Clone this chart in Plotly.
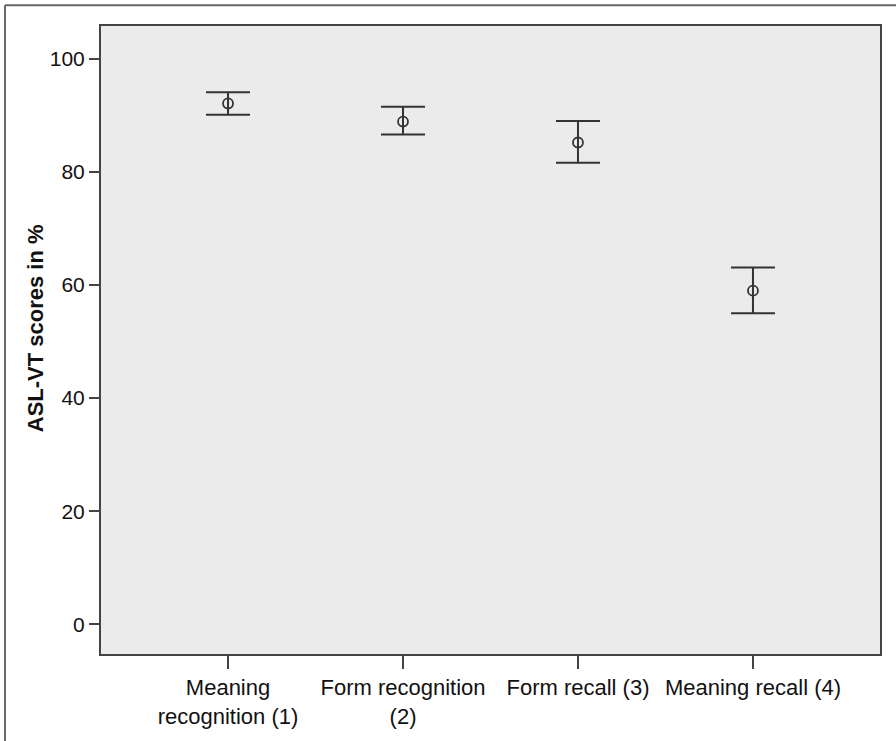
import plotly.graph_objects as go

categories = ["Meaning<br>recognition (1)", "Form recognition<br>(2)", "Form recall (3)", "Meaning recall (4)"]
positions = [0, 1, 2, 3]
means = [92.1, 88.9, 85.2, 59.0]
ci_upper = [94.1, 91.5, 89.0, 63.1]
ci_lower = [90.1, 86.6, 81.6, 55.0]
y_ticks = [0, 20, 40, 60, 80, 100]

err_plus = [u - m for u, m in zip(ci_upper, means)]
err_minus = [m - l for m, l in zip(means, ci_lower)]

ink = "#333333"
font_family = "Liberation Sans, Arial, sans-serif"

fig = go.Figure()
fig.add_trace(go.Scatter(
    x=positions, y=means, mode="markers",
    marker=dict(symbol="circle-open", size=10, color=ink, line=dict(width=1.8, color=ink)),
    error_y=dict(type="data", symmetric=False, array=err_plus, arrayminus=err_minus,
                 color=ink, thickness=2, width=22),
    showlegend=False, hoverinfo="skip",
))

fig.update_layout(
    width=896, height=741,
    margin=dict(l=101, r=16, t=26, b=82),
    paper_bgcolor="white", plot_bgcolor="#ebebeb",
    font=dict(family=font_family, size=21, color="#111111"),
    xaxis=dict(range=[-0.726, 3.726], tickvals=positions, ticktext=categories,
               showgrid=False, zeroline=False, showline=True, linecolor="#444444",
               linewidth=2, mirror=True, ticks="outside", ticklen=13, tickwidth=2,
               tickcolor="#444444", tickfont=dict(size=22)),
    yaxis=dict(range=[-5.26, 105.8], tickvals=y_ticks, showgrid=False, zeroline=False,
               showline=True, linecolor="#444444", linewidth=2, mirror=True,
               ticks="outside", ticklen=10, tickwidth=2, tickcolor="#444444",
               tickfont=dict(size=21)),
    annotations=[dict(text="<b>ASL-VT scores in %</b>", xref="paper", yref="paper",
                      x=-0.084, y=0.518, textangle=-90, showarrow=False,
                      xanchor="center", yanchor="middle",
                      font=dict(size=22, family=font_family, color="#111111"))],
    shapes=[
        dict(type="line", xref="paper", yref="paper", x0=-0.1232, x1=1.2, y0=1.0332, y1=1.0332,
             line=dict(color="#666666", width=2)),
        dict(type="line", xref="paper", yref="paper", x0=-0.1232, x1=-0.1232, y0=-0.3, y1=1.0332,
             line=dict(color="#666666", width=2)),
    ],
)

fig.write_html("out.html", config={"displayModeBar": False},
               post_script="document.body.style.margin='0';")
